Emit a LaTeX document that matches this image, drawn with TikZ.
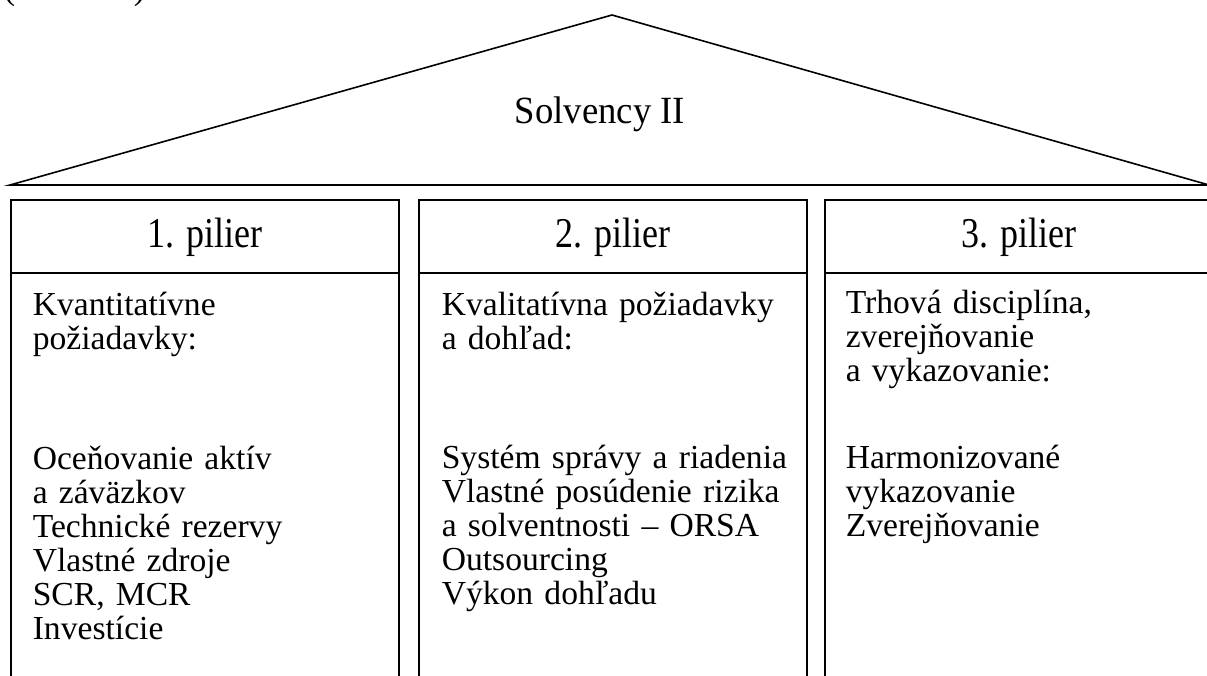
\documentclass[tikz,border=0pt]{standalone}
\usepackage{graphicx}
\usepackage{fontspec}
\setmainfont{Liberation Serif}
\newcommand{\tallhead}[1]{\scalebox{1}[1.18]{#1}}
\begin{document}
\begin{tikzpicture}[x=0.75pt,y=-0.75pt,line width=1.2pt,
  bodytext/.style={anchor=base west,inner sep=0pt,align=left,text width=285pt,
    font=\fontsize{25.2}{25.5}\selectfont},
  headtext/.style={anchor=base,inner sep=0pt,font=\fontsize{27}{27}\selectfont},
  pillar/.style={draw=black,line width=1.2pt}]
\useasboundingbox (0,0) rectangle (1207,675);
\clip (0,0) rectangle (1207,675);
% cut-off caption above
\node (cut) [anchor=base west,inner sep=0pt,font=\fontsize{25.5}{25.5}\selectfont] at (3,-1) {(\hspace{89pt})};
% roof
\coordinate (rl) at (10,185);
\coordinate (ra) at (612,15);
\coordinate (rr) at (1209,185);
\draw[line join=miter] (rl) -- (ra) -- (rr) -- cycle;
\node (title) [headtext,font=\fontsize{27.5}{27.5}\selectfont] at (600,123) {\scalebox{1}[1.05]{Solvency II}};
% pillars
\foreach \xl/\xr in {11/399, 419/807, 825/1213}{
  \draw[pillar] (\xl,720) -- (\xl,200) -- (\xr,200) -- (\xr,720);
  \draw[pillar] (\xl,273) -- (\xr,273);
}
\node (h1) [headtext] at (205,247) {\tallhead{1. pilier}};
\node (h2) [headtext] at (613,247) {\tallhead{2. pilier}};
\node (h3) [headtext] at (1019,247) {\tallhead{3. pilier}};
% pillar 1
\node (p1a) [bodytext] at (32,315) {Kvantitatívne\\požiadavky:};
\node (p1b) [bodytext] at (32,469) {Oceňovanie aktív\\a záväzkov\\Technické rezervy\\Vlastné zdroje\\SCR, MCR\\Investície};
% pillar 2
\node (p2a) [bodytext] at (441,315) {Kvalitatívna požiadavky\\a dohľad:};
\node (p2b) [bodytext] at (441,468) {Systém správy a riadenia\\Vlastné posúdenie rizika\\a solventnosti – ORSA\\Outsourcing\\Výkon dohľadu};
% pillar 3
\node (p3a) [bodytext] at (845,313) {Trhová disciplína,\\zverejňovanie\\a vykazovanie:};
\node (p3b) [bodytext] at (845,468) {Harmonizované\\vykazovanie\\Zverejňovanie};
\end{tikzpicture}
\end{document}
